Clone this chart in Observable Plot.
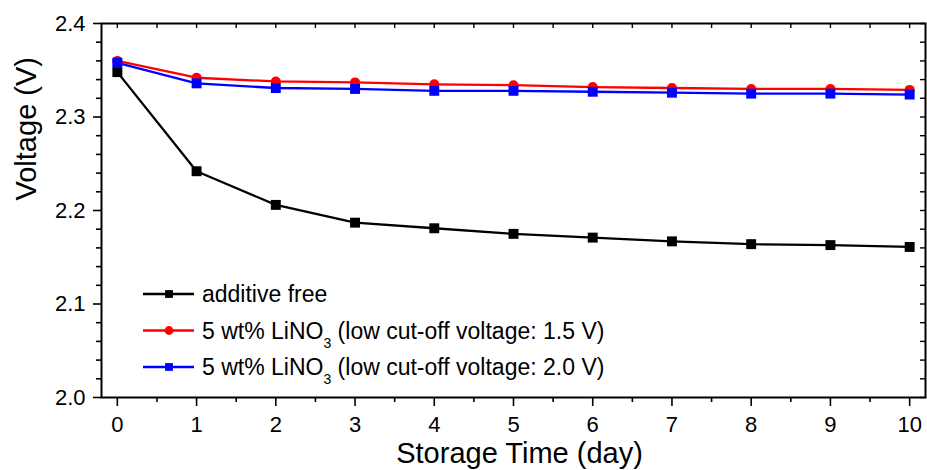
<!DOCTYPE html>
<html>
<head>
<meta charset="utf-8">
<script src="https://cdn.jsdelivr.net/npm/d3@7"></script>
<script src="https://cdn.jsdelivr.net/npm/@observablehq/plot@0.6"></script>
<style>
  body { margin: 0; background: #fff; }
  #chart { width: 927px; height: 470px; }
</style>
</head>
<body>
<div id="chart"></div>
<script>
// Open-circuit voltage during storage, Li–S cells with and without LiNO3
const days = [0, 1, 2, 3, 4, 5, 6, 7, 8, 9, 10];
const additiveFree = [2.348, 2.242, 2.206, 2.187, 2.181, 2.175, 2.171, 2.167, 2.164, 2.163, 2.161];
const lino3Cutoff15 = [2.360, 2.342, 2.338, 2.337, 2.335, 2.334, 2.332, 2.331, 2.330, 2.330, 2.329];
const lino3Cutoff20 = [2.358, 2.336, 2.331, 2.330, 2.328, 2.328, 2.327, 2.326, 2.325, 2.325, 2.324];

const xTicks = days;
const xMinorTicks = d3.range(0.5, 10, 1);
const xTopTicks = d3.range(0, 10.01, 0.5);
const yTicks = [2.0, 2.1, 2.2, 2.3, 2.4];
const yMinorTicks = d3.range(2.02, 2.4, 0.02).filter(v => Math.abs(v * 10 - Math.round(v * 10)) > 1e-6);
const yRightTicks = d3.range(2.0, 2.401, 0.02);

const series = [
  { label: ["additive free"], values: additiveFree, color: "#000000", symbol: "square", r: 5.6 },
  { label: ["5 wt% LiNO", "3", " (low cut-off voltage: 1.5 V)"], values: lino3Cutoff15, color: "#ff0000", symbol: "circle", r: 5 },
  { label: ["5 wt% LiNO", "3", " (low cut-off voltage: 2.0 V)"], values: lino3Cutoff20, color: "#0000ff", symbol: "square", r: 5.6 }
];

const W = 927, H = 470;
const M = { top: 23, right: 2, bottom: 73, left: 101 };
const plotW = W - M.left - M.right;
const plotH = H - M.top - M.bottom;

const seriesMarks = series.flatMap(s => {
  const rows = days.map((d, i) => ({ day: d, voltage: s.values[i] }));
  return [
    Plot.line(rows, { x: "day", y: "voltage", stroke: s.color, strokeWidth: 2.3 }),
    Plot.dot(rows, { x: "day", y: "voltage", fill: s.color, symbol: s.symbol, r: s.r, stroke: "none" })
  ];
});

const chart = Plot.plot({
  width: W,
  height: H,
  marginTop: M.top,
  marginRight: M.right,
  marginBottom: M.bottom,
  marginLeft: M.left,
  x: { domain: [-0.2, 10.2] },
  y: { domain: [2.0, 2.4] },
  style: {
    fontFamily: "'Liberation Sans', Arial, Helvetica, sans-serif",
    fontSize: "22px",
    color: "#000",
    background: "#fff"
  },
  marks: [
    // bottom axis: labelled majors, short minors, both pointing outward
    Plot.axisX(xTicks, { tickSize: 9, tickPadding: 10, strokeWidth: 1.6, fontSize: 22, label: null }),
    Plot.axisX(xMinorTicks, { tickSize: 5, strokeWidth: 1.6, tickFormat: () => "", label: null }),
    // top edge: small inward ticks
    Plot.ruleX(xTopTicks, { insetBottom: plotH - 5, strokeWidth: 1.4 }),
    // left axis
    Plot.axisY(yTicks, { tickSize: 8, tickPadding: 8, strokeWidth: 1.6, fontSize: 22, tickFormat: d3.format(".1f"), label: null }),
    Plot.axisY(yMinorTicks, { tickSize: 5, strokeWidth: 1.6, tickFormat: () => "", label: null }),
    // right edge: small inward ticks
    Plot.ruleY(yRightTicks, { insetLeft: plotW - 5, strokeWidth: 1.4 }),
    Plot.frame({ stroke: "#000", strokeWidth: 2 }),
    ...seriesMarks,
    // axis titles
    Plot.text(["Storage Time (day)"], { text: d => d, frameAnchor: "bottom", dy: 56, dx: 6, fontSize: 29, lineAnchor: "middle" }),
    Plot.text(["Voltage (V)"], { text: d => d, frameAnchor: "left", rotate: -90, dx: -75, dy: -10, fontSize: 29, lineAnchor: "middle" })
  ]
});

document.getElementById("chart").appendChild(chart);

// Legend inside the plot area, lower left
const svg = d3.select(chart);
const legend = svg.append("g").attr("class", "legend").attr("text-anchor", "start");
const rowY = [294, 330.5, 367];
series.forEach((s, i) => {
  const g = legend.append("g").attr("transform", `translate(0,${rowY[i]})`);
  g.append("line")
    .attr("x1", 143).attr("x2", 194).attr("y1", 0).attr("y2", 0)
    .attr("stroke", s.color).attr("stroke-width", 2.3);
  const sym = s.symbol === "circle" ? d3.symbolCircle : d3.symbolSquare;
  g.append("path")
    .attr("transform", "translate(169,0)")
    .attr("d", d3.symbol(sym, Math.PI * 4.4 * 4.4)())
    .attr("fill", s.color);
  const t = g.append("text")
    .attr("x", 202).attr("y", 0).attr("dy", "0.35em")
    .attr("text-anchor", "start")
    .attr("font-size", 23).attr("fill", "#000");
  t.append("tspan").text(s.label[0]);
  if (s.label.length > 1) {
    t.append("tspan").attr("dy", 9).attr("font-size", 14).text(s.label[1]);
    t.append("tspan").attr("dy", -9).text(s.label[2]);
  }
});
</script>
</body>
</html>
